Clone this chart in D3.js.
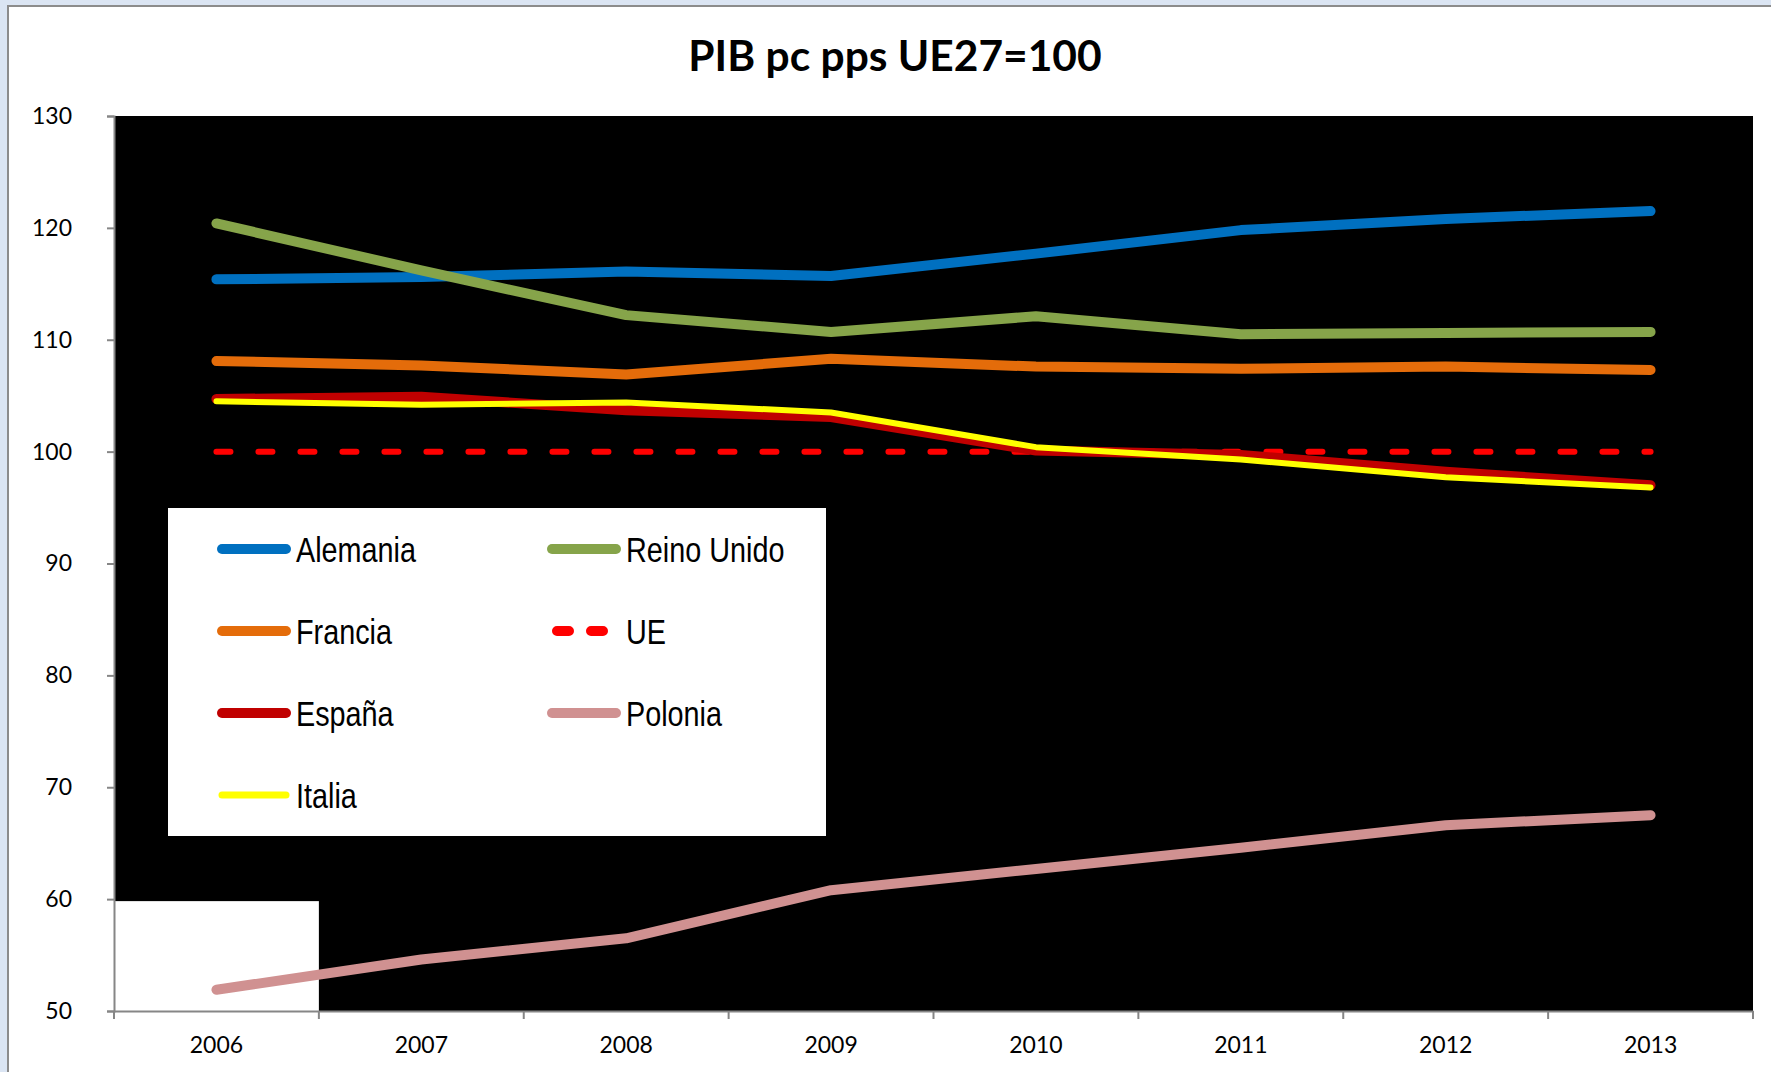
<!DOCTYPE html>
<html>
<head>
<meta charset="utf-8">
<script src="https://cdn.jsdelivr.net/npm/d3@7"></script>
<style>
  html, body { margin: 0; padding: 0; background: #dbe5f3; }
  svg { display: block; }
  .tick text { font-family: Lato, "Open Sans", sans-serif; font-size: 23px; fill: #000; }
  .legend text { font-family: "Liberation Sans", Arial, sans-serif; font-size: 36px; }
</style>
</head>
<body>
<svg></svg>
<script>
let svg = d3.select("svg"),
    width = 1771,
    height = 1072;

svg.attr("width", width).attr("height", height);

let years = ["2006", "2007", "2008", "2009", "2010", "2011", "2012", "2013"];
let yTicks = [50, 60, 70, 80, 90, 100, 110, 120, 130];

let alemania   = [115.4, 115.6, 116.1, 115.7, 117.7, 119.8, 120.8, 121.5];
let reinoUnido = [120.4, 116.2, 112.2, 110.7, 112.1, 110.5, 110.6, 110.7];
let francia    = [108.1, 107.7, 106.9, 108.3, 107.6, 107.4, 107.6, 107.3];
let espana     = [104.7, 104.9, 103.7, 103.1, 100.1, 99.7, 98.2, 97.0];
let italia     = [104.5, 104.2, 104.4, 103.5, 100.4, 99.3, 97.7, 96.8];
let ue         = [100, 100, 100, 100, 100, 100, 100, 100];
let polonia    = [51.9, 54.6, 56.5, 60.8, 62.7, 64.6, 66.6, 67.5];

let series = [
  {name: "Alemania",   values: alemania,   color: "#0070c0", w: 10},
  {name: "Reino Unido",values: reinoUnido, color: "#86a44a", w: 10},
  {name: "Francia",    values: francia,    color: "#e46c0a", w: 10},
  {name: "UE",         values: ue,         color: "#ff0000", w: 6, dash: "14,28"},
  {name: "España",     values: espana,     color: "#c00000", w: 10},
  {name: "Polonia",    values: polonia,    color: "#d09191", w: 10},
  {name: "Italia",     values: italia,     color: "#ffff00", w: 6}
];

let pLeft = 114, pRight = 1753, pTop = 116, pBottom = 1011;

// outer frame
svg.append("rect")
  .attr("x", 8).attr("y", 6)
  .attr("width", width).attr("height", height)
  .attr("fill", "#fff")
  .attr("stroke", "#8c8c8c").attr("stroke-width", 2);

let x = d3.scaleBand().domain(years).range([pLeft, pRight]);
let y = d3.scaleLinear().domain([50, 130]).range([pBottom, pTop]);

// plot area
svg.append("rect")
  .attr("x", pLeft).attr("y", pTop)
  .attr("width", pRight - pLeft).attr("height", pBottom - pTop)
  .attr("fill", "#000");

// white patch in the bottom-left corner of the plot
svg.append("rect")
  .attr("x", pLeft + 1).attr("y", y(60) + 2)
  .attr("width", x("2007") - pLeft - 1).attr("height", y(50) - y(60) - 2)
  .attr("fill", "#fff");

svg.append("text")
  .attr("x", 895).attr("y", 71)
  .attr("text-anchor", "middle")
  .attr("font-family", "Lato, 'Open Sans', sans-serif")
  .attr("font-weight", "bold")
  .attr("font-size", 42.5)
  .text("PIB pc pps UE27=100");

// y axis
let yAxis = svg.append("g")
  .attr("transform", `translate(${pLeft},0)`)
  .call(d3.axisLeft(y).tickValues(yTicks).tickSize(7).tickPadding(35));
yAxis.selectAll("line, path").attr("stroke", "#868686").attr("stroke-width", 2);

// x axis
let xAxis = svg.append("g")
  .attr("transform", `translate(0,${pBottom})`)
  .call(d3.axisBottom(x).tickSize(0).tickPadding(26));
xAxis.select("path").attr("stroke", "#868686").attr("stroke-width", 2);
xAxis.selectAll(".bound")
  .data(years.map(d => x(d)).concat([pRight]))
  .join("line")
  .attr("class", "bound")
  .attr("x1", d => d).attr("x2", d => d)
  .attr("y1", 0).attr("y2", 8)
  .attr("stroke", "#868686").attr("stroke-width", 2);

// lines
let line = d3.line()
  .x((d, i) => x(years[i]) + x.bandwidth() / 2)
  .y(d => y(d));

svg.append("g").selectAll("path")
  .data(series)
  .join("path")
  .attr("d", d => line(d.values))
  .attr("fill", "none")
  .attr("stroke", d => d.color)
  .attr("stroke-width", d => d.w)
  .attr("stroke-linecap", "round")
  .attr("stroke-linejoin", "round")
  .attr("stroke-dasharray", d => d.dash || null);

// legend
let legendOrder = ["Alemania", "Reino Unido", "Francia", "UE", "España", "Polonia", "Italia"];
let legend = svg.append("g").attr("class", "legend");
legend.append("rect")
  .attr("x", 168).attr("y", 508)
  .attr("width", 658).attr("height", 328)
  .attr("fill", "#fff");

let items = legend.selectAll("g.item")
  .data(legendOrder.map(n => series.find(s => s.name == n)))
  .join("g")
  .attr("class", "item")
  .attr("transform", (d, i) => `translate(${i % 2 ? 552 : 222},${549 + Math.floor(i / 2) * 82})`);

items.append("line")
  .attr("x1", d => d.dash ? 5 : 0).attr("x2", 64)
  .attr("stroke", d => d.color)
  .attr("stroke-width", d => d.name == "Italia" ? 7 : 10)
  .attr("stroke-linecap", "round")
  .attr("stroke-dasharray", d => d.dash ? "12,22" : null);

items.append("text")
  .attr("transform", "translate(74,13) scale(0.8,1)")
  .text(d => d.name);
</script>
</body>
</html>
